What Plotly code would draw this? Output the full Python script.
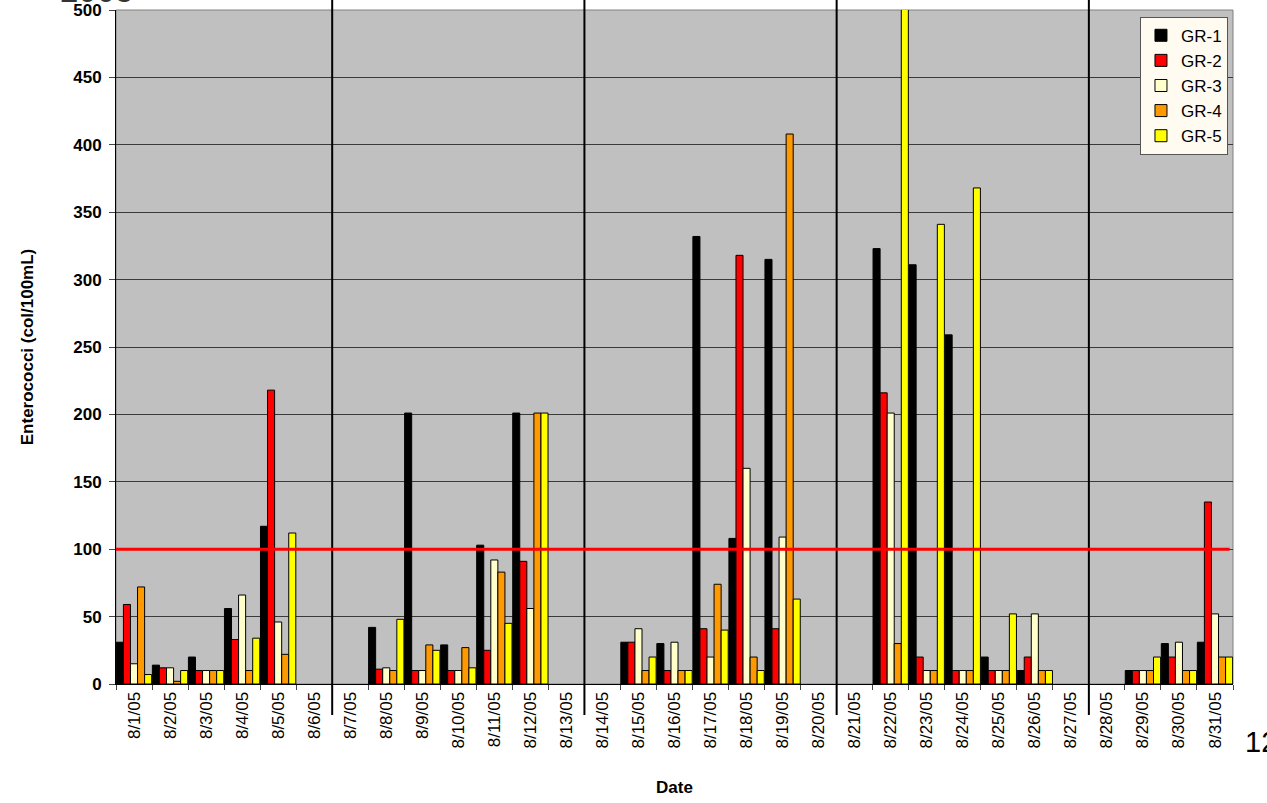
import plotly.graph_objects as go

# sampling days, August 2005
dates = ['8/%d/05' % d for d in range(1, 32)]

# Enterococci (col/100mL) per site, None = no sample
gr1 = [31, 14, 20, 56, 117, None,
       None, 42, 201, 29, 103, 201, None,
       None, 31, 30, 332, 108, 315, None,
       None, 323, 311, 259, 20, 10, None,
       None, 10, 30, 31]
gr2 = [59, 12, 10, 33, 218, None,
       None, 11, 10, 10, 25, 91, None,
       None, 31, 10, 41, 318, 41, None,
       None, 216, 20, 10, 10, 20, None,
       None, 10, 20, 135]
gr3 = [15, 12, 10, 66, 46, None,
       None, 12, 10, 10, 92, 56, None,
       None, 41, 31, 20, 160, 109, None,
       None, 201, 10, 10, 10, 52, None,
       None, 10, 31, 52]
gr4 = [72, 2, 10, 10, 22, None,
       None, 10, 29, 27, 83, 201, None,
       None, 10, 10, 74, 20, 408, None,
       None, 30, 10, 10, 10, 10, None,
       None, 10, 10, 20]
gr5 = [7, 10, 10, 34, 112, None,
       None, 48, 25, 12, 45, 201, None,
       None, 20, 10, 40, 10, 63, None,
       None, 503, 341, 368, 52, 10, None,
       None, 20, 10, 20]

series = [('GR-1', gr1, '#000000'),
          ('GR-2', gr2, '#FF0000'),
          ('GR-3', gr3, '#FFFFCC'),
          ('GR-4', gr4, '#FF9900'),
          ('GR-5', gr5, '#FFFF00')]

threshold = 100
week_breaks = ['8/6/05', '8/13/05', '8/20/05', '8/27/05']

fig = go.Figure()
for name, vals, col in series:
    fig.add_trace(go.Bar(x=dates, y=vals, name=name,
                         marker=dict(color=col, line=dict(color='black', width=1))))

# weekly separators, drawn between the last day of a week and the next
for d in week_breaks:
    i = dates.index(d)
    fig.add_shape(type='line', xref='x', yref='paper',
                  x0=i + 0.5, x1=i + 0.5, y0=-0.046, y1=1.03,
                  line=dict(color='black', width=2))

# 100 col/100mL line
fig.add_shape(type='line', xref='paper', yref='y',
              x0=0, x1=0.997, y0=threshold, y1=threshold,
              line=dict(color='#FF0000', width=3))

fig.add_annotation(text='2005', xref='paper', yref='paper', x=-0.052, y=0.998,
                   xanchor='left', yanchor='bottom', showarrow=False,
                   font=dict(size=33, color='#333333'))
fig.add_annotation(text='12', xref='paper', yref='paper', x=1.009, y=-0.086,
                   xanchor='left', yanchor='middle', showarrow=False,
                   font=dict(size=29, color='black'))

fig.update_layout(
    width=1267, height=803,
    margin=dict(l=116, r=34, t=10, b=119),
    barmode='group', bargap=0.02, bargroupgap=0,
    paper_bgcolor='white', plot_bgcolor='#C0C0C0',
    font=dict(family='Arial, Liberation Sans, sans-serif', color='black'),
    legend=dict(x=0.9955, y=0.99, xanchor='right', yanchor='top',
                bgcolor='#FFFBF0', bordercolor='#555555', borderwidth=1,
                font=dict(size=17), tracegroupgap=0, itemwidth=30),
    xaxis=dict(type='category', tickangle=-90, tickfont=dict(size=17),
               ticks='outside', tickson='boundaries', ticklen=5,
               showline=True, linecolor='black', linewidth=1,
               showgrid=False, automargin=False,
               title=dict(text='<b>Date</b>', font=dict(size=17), standoff=33)),
    yaxis=dict(range=[0, 500], dtick=50, tickfont=dict(size=17, weight='bold'),
               ticks='outside', ticklen=6, ticklabelstandoff=4, ticklabeloverflow='allow',
               showline=True, linecolor='black', linewidth=1,
               gridcolor='#3A3A3A', gridwidth=1, zeroline=False, automargin=False,
               title=dict(text='<b>Enterococci (col/100mL)</b>', font=dict(size=17), standoff=35)),
)
fig.add_shape(type='rect', xref='paper', yref='paper', x0=0, x1=1, y0=0, y1=1,
              line=dict(color='#808080', width=1), layer='below')

# page without the default body margin so the chart sits at the window corner
fig.write_html('out.html', config={'displayModeBar': False},
               post_script="document.body.style.margin='0';")
